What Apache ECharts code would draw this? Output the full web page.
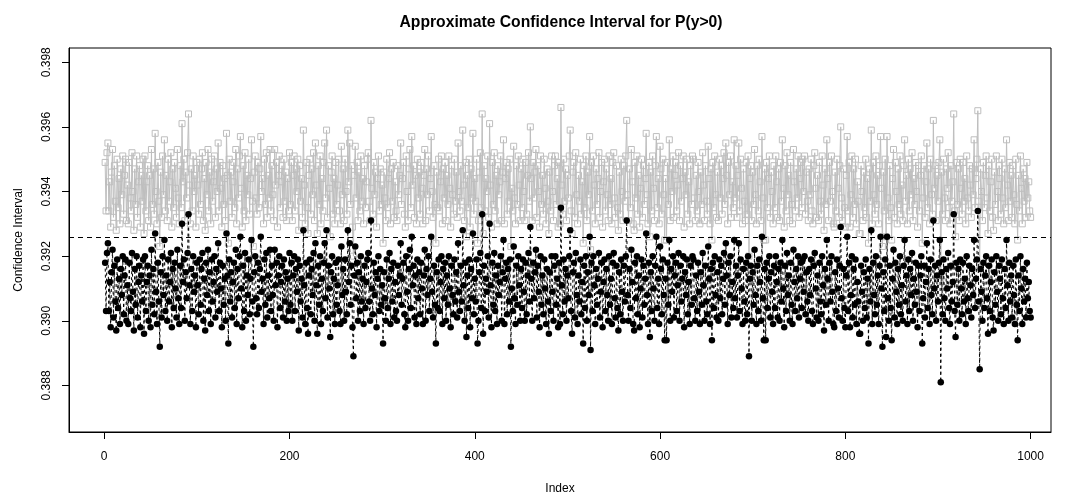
<!DOCTYPE html>
<html>
<head>
<meta charset="utf-8">
<script src="https://cdn.jsdelivr.net/npm/echarts@6/dist/echarts.min.js"></script>
<style>
  html, body { margin: 0; padding: 0; background: #fff; }
  #chart { width: 1067px; height: 496px; }
</style>
</head>
<body>
<div id="chart"></div>
<script>
// Lower confidence bound, one value per simulation index (1..1000)
const lowerBound = [
0.3918,0.3903,0.3921,0.3924,0.3903,0.3912,0.3898,0.3915,0.3922,0.3901,0.3917,0.3906,0.3897,0.3919,0.3904,0.3913,0.3899,0.3916,0.3908,0.3920,
0.3902,0.3914,0.3919,0.3900,0.3911,0.3899,0.3918,0.3907,0.3903,0.3921,0.3909,0.3897,0.3916,0.3905,0.3920,0.3901,0.3912,0.3917,0.3898,0.3914,
0.3906,0.3919,0.3896,0.3920,0.3903,0.3912,0.3917,0.3900,0.3914,0.3898,0.3922,0.3905,0.3916,0.3902,0.3927,0.3909,0.3899,0.3918,0.3906,0.3892,
0.3915,0.3901,0.3920,0.3908,0.3925,0.3903,0.3914,0.3900,0.3919,0.3906,0.3912,0.3921,0.3898,0.3916,0.3904,0.3918,0.3910,0.3901,0.3922,0.3907,
0.3899,0.3917,0.3904,0.3930,0.3912,0.3919,0.3900,0.3915,0.3907,0.3921,0.3933,0.3911,0.3899,0.3916,0.3903,0.3920,0.3909,0.3914,0.3898,0.3918,
0.3911,0.3902,0.3919,0.3905,0.3916,0.3921,0.3900,0.3913,0.3897,0.3918,0.3908,0.3922,0.3903,0.3915,0.3899,0.3919,0.3906,0.3912,0.3920,0.3901,
0.3916,0.3909,0.3924,0.3903,0.3918,0.3910,0.3898,0.3917,0.3905,0.3913,0.3900,0.3927,0.3914,0.3893,0.3919,0.3906,0.3915,0.3901,0.3912,0.3918,
0.3904,0.3922,0.3899,0.3916,0.3907,0.3920,0.3926,0.3910,0.3898,0.3917,0.3903,0.3921,0.3900,0.3914,0.3908,0.3919,0.3902,0.3913,0.3925,0.3906,
0.3892,0.3915,0.3920,0.3907,0.3902,0.3918,0.3904,0.3916,0.3926,0.3909,0.3913,0.3899,0.3919,0.3905,0.3921,0.3901,0.3914,0.3907,0.3922,0.3903,
0.3917,0.3908,0.3900,0.3922,0.3911,0.3918,0.3898,0.3914,0.3920,0.3904,0.3912,0.3917,0.3901,0.3919,0.3906,0.3915,0.3900,0.3913,0.3903,0.3921,
0.3905,0.3918,0.3900,0.3914,0.3920,0.3903,0.3916,0.3909,0.3919,0.3897,0.3917,0.3906,0.3913,0.3901,0.3928,0.3911,0.3899,0.3918,0.3904,0.3896,
0.3914,0.3919,0.3902,0.3916,0.3908,0.3921,0.3900,0.3924,0.3911,0.3896,0.3917,0.3905,0.3920,0.3899,0.3913,0.3903,0.3918,0.3924,0.3907,0.3928,
0.3901,0.3917,0.3910,0.3895,0.3915,0.3920,0.3902,0.3913,0.3899,0.3918,0.3905,0.3911,0.3919,0.3903,0.3899,0.3923,0.3908,0.3916,0.3900,0.3919,
0.3909,0.3902,0.3928,0.3912,0.3924,0.3905,0.3917,0.3898,0.3889,0.3914,0.3923,0.3907,0.3918,0.3900,0.3915,0.3903,0.3920,0.3906,0.3913,0.3899,
0.3917,0.3904,0.3912,0.3919,0.3921,0.3906,0.3900,0.3931,0.3910,0.3902,0.3918,0.3908,0.3915,0.3898,0.3913,0.3920,0.3903,0.3916,0.3905,0.3911,
0.3893,0.3915,0.3907,0.3900,0.3919,0.3904,0.3913,0.3921,0.3899,0.3916,0.3906,0.3918,0.3901,0.3912,0.3903,0.3900,0.3917,0.3908,0.3914,0.3924,
0.3905,0.3913,0.3918,0.3902,0.3898,0.3920,0.3909,0.3900,0.3916,0.3922,0.3904,0.3926,0.3911,0.3917,0.3901,0.3914,0.3899,0.3919,0.3907,0.3915,
0.3902,0.3918,0.3910,0.3899,0.3914,0.3922,0.3900,0.3916,0.3908,0.3920,0.3903,0.3913,0.3926,0.3909,0.3901,0.3917,0.3905,0.3893,0.3915,0.3904,
0.3919,0.3903,0.3912,0.3920,0.3899,0.3916,0.3907,0.3918,0.3900,0.3914,0.3905,0.3920,0.3910,0.3898,0.3917,0.3908,0.3902,0.3919,0.3906,0.3915,
0.3901,0.3924,0.3909,0.3903,0.3917,0.3906,0.3928,0.3911,0.3900,0.3918,0.3895,0.3914,0.3904,0.3919,0.3898,0.3916,0.3907,0.3927,0.3902,0.3913,
0.3906,0.3919,0.3893,0.3900,0.3915,0.3921,0.3904,0.3933,0.3896,0.3917,0.3903,0.3913,0.3909,0.3920,0.3901,0.3930,0.3911,0.3898,0.3918,0.3905,
0.3921,0.3903,0.3914,0.3899,0.3917,0.3908,0.3912,0.3920,0.3900,0.3915,0.3925,0.3899,0.3913,0.3918,0.3902,0.3916,0.3906,0.3919,0.3892,0.3910,
0.3903,0.3923,0.3907,0.3899,0.3917,0.3905,0.3920,0.3911,0.3900,0.3916,0.3904,0.3919,0.3909,0.3900,0.3918,0.3902,0.3914,0.3921,0.3906,0.3929,
0.3913,0.3900,0.3918,0.3907,0.3915,0.3922,0.3901,0.3917,0.3909,0.3898,0.3920,0.3905,0.3914,0.3902,0.3919,0.3910,0.3899,0.3916,0.3906,0.3896,
0.3915,0.3903,0.3920,0.3909,0.3900,0.3917,0.3920,0.3905,0.3913,0.3898,0.3918,0.3899,0.3935,0.3911,0.3902,0.3919,0.3906,0.3916,0.3900,0.3914,
0.3907,0.3920,0.3928,0.3903,0.3896,0.3915,0.3918,0.3901,0.3921,0.3908,0.3899,0.3914,0.3906,0.3919,0.3902,0.3912,0.3893,0.3917,0.3904,0.3920,
0.3900,0.3915,0.3908,0.3926,0.3891,0.3918,0.3903,0.3920,0.3911,0.3899,0.3916,0.3905,0.3913,0.3921,0.3901,0.3909,0.3918,0.3898,0.3912,0.3919,
0.3903,0.3916,0.3908,0.3900,0.3920,0.3905,0.3913,0.3899,0.3918,0.3921,0.3907,0.3901,0.3917,0.3904,0.3897,0.3915,0.3902,0.3919,0.3909,0.3900,
0.3917,0.3906,0.3920,0.3931,0.3908,0.3900,0.3916,0.3904,0.3922,0.3912,0.3899,0.3897,0.3918,0.3907,0.3920,0.3902,0.3914,0.3898,0.3910,0.3919,
0.3901,0.3917,0.3905,0.3913,0.3927,0.3908,0.3899,0.3918,0.3895,0.3915,0.3903,0.3920,0.3910,0.3900,0.3917,0.3926,0.3904,0.3913,0.3899,0.3923,
0.3916,0.3902,0.3919,0.3908,0.3894,0.3913,0.3894,0.3918,0.3905,0.3925,0.3900,0.3916,0.3909,0.3920,0.3901,0.3914,0.3918,0.3903,0.3911,0.3921,
0.3900,0.3917,0.3906,0.3913,0.3920,0.3898,0.3915,0.3908,0.3919,0.3902,0.3912,0.3899,0.3917,0.3905,0.3920,0.3919,0.3907,0.3900,0.3914,0.3903,
0.3918,0.3909,0.3899,0.3915,0.3905,0.3921,0.3911,0.3900,0.3917,0.3906,0.3902,0.3923,0.3913,0.3899,0.3916,0.3894,0.3918,0.3904,0.3920,0.3908,
0.3901,0.3915,0.3900,0.3919,0.3907,0.3917,0.3902,0.3913,0.3921,0.3905,0.3924,0.3914,0.3899,0.3918,0.3908,0.3920,0.3901,0.3912,0.3904,0.3925,
0.3907,0.3917,0.3901,0.3914,0.3924,0.3903,0.3919,0.3910,0.3899,0.3916,0.3906,0.3900,0.3918,0.3902,0.3920,0.3889,0.3913,0.3917,0.3900,0.3915,
0.3905,0.3922,0.3908,0.3899,0.3917,0.3903,0.3919,0.3912,0.3900,0.3926,0.3907,0.3894,0.3916,0.3894,0.3918,0.3904,0.3913,0.3920,0.3901,0.3915,
0.3909,0.3899,0.3917,0.3904,0.3920,0.3912,0.3901,0.3916,0.3900,0.3918,0.3906,0.3925,0.3910,0.3898,0.3917,0.3903,0.3921,0.3908,0.3914,0.3900,
0.3918,0.3905,0.3899,0.3922,0.3912,0.3903,0.3916,0.3907,0.3920,0.3901,0.3913,0.3918,0.3904,0.3919,0.3909,0.3920,0.3902,0.3915,0.3906,0.3900,
0.3916,0.3908,0.3919,0.3903,0.3899,0.3917,0.3921,0.3910,0.3901,0.3914,0.3900,0.3918,0.3906,0.3902,0.3920,0.3911,0.3897,0.3916,0.3905,0.3925,
0.3913,0.3900,0.3918,0.3906,0.3920,0.3909,0.3899,0.3898,0.3915,0.3903,0.3919,0.3910,0.3901,0.3917,0.3929,0.3907,0.3900,0.3916,0.3904,0.3898,
0.3914,0.3926,0.3903,0.3918,0.3898,0.3908,0.3920,0.3901,0.3916,0.3905,0.3919,0.3899,0.3912,0.3906,0.3896,0.3896,0.3917,0.3909,0.3900,0.3915,
0.3904,0.3919,0.3901,0.3913,0.3893,0.3916,0.3906,0.3928,0.3899,0.3918,0.3908,0.3902,0.3920,0.3905,0.3914,0.3899,0.3917,0.3926,0.3910,0.3892,
0.3915,0.3903,0.3919,0.3895,0.3926,0.3907,0.3900,0.3917,0.3904,0.3894,0.3913,0.3922,0.3901,0.3918,0.3909,0.3899,0.3916,0.3905,0.3920,0.3902,
0.3911,0.3900,0.3917,0.3925,0.3906,0.3914,0.3899,0.3919,0.3903,0.3916,0.3908,0.3921,0.3900,0.3913,0.3905,0.3918,0.3909,0.3898,0.3917,0.3903,
0.3914,0.3920,0.3893,0.3907,0.3917,0.3901,0.3912,0.3924,0.3904,0.3916,0.3899,0.3919,0.3908,0.3902,0.3931,0.3910,0.3917,0.3900,0.3914,0.3906,
0.3918,0.3925,0.3881,0.3915,0.3902,0.3919,0.3907,0.3900,0.3916,0.3910,0.3921,0.3904,0.3899,0.3917,0.3906,0.3912,0.3933,0.3903,0.3895,0.3918,
0.3905,0.3916,0.3900,0.3919,0.3910,0.3902,0.3918,0.3906,0.3913,0.3899,0.3920,0.3907,0.3903,0.3917,0.3911,0.3901,0.3916,0.3908,0.3925,0.3904,
0.3913,0.3919,0.3934,0.3906,0.3885,0.3916,0.3909,0.3900,0.3918,0.3904,0.3914,0.3920,0.3907,0.3896,0.3917,0.3903,0.3912,0.3919,0.3901,0.3897,
0.3915,0.3905,0.3920,0.3909,0.3900,0.3917,0.3913,0.3902,0.3919,0.3907,0.3899,0.3916,0.3904,0.3925,0.3911,0.3900,0.3918,0.3906,0.3914,0.3901,
0.3917,0.3908,0.3899,0.3919,0.3905,0.3894,0.3914,0.3903,0.3920,0.3910,0.3899,0.3916,0.3906,0.3913,0.3901,0.3918,0.3907,0.3912,0.3903,0.3901
];

// Upper confidence bound, same indices
const upperBound = [
0.3949,0.3934,0.3952,0.3955,0.3934,0.3943,0.3929,0.3946,0.3953,0.3932,0.3948,0.3937,0.3928,0.3950,0.3935,0.3944,0.3930,0.3947,0.3939,0.3951,
0.3933,0.3945,0.3950,0.3931,0.3942,0.3930,0.3949,0.3938,0.3934,0.3952,0.3940,0.3928,0.3947,0.3936,0.3951,0.3932,0.3943,0.3948,0.3929,0.3945,
0.3937,0.3950,0.3927,0.3951,0.3934,0.3943,0.3948,0.3931,0.3945,0.3929,0.3953,0.3936,0.3947,0.3933,0.3958,0.3940,0.3930,0.3949,0.3937,0.3923,
0.3946,0.3932,0.3951,0.3939,0.3956,0.3934,0.3945,0.3931,0.3950,0.3937,0.3943,0.3952,0.3929,0.3947,0.3935,0.3949,0.3941,0.3932,0.3953,0.3938,
0.3930,0.3948,0.3935,0.3961,0.3943,0.3950,0.3931,0.3946,0.3938,0.3952,0.3964,0.3942,0.3930,0.3947,0.3934,0.3951,0.3940,0.3945,0.3929,0.3949,
0.3942,0.3933,0.3950,0.3936,0.3947,0.3952,0.3931,0.3944,0.3928,0.3949,0.3939,0.3953,0.3934,0.3946,0.3930,0.3950,0.3937,0.3943,0.3951,0.3932,
0.3947,0.3940,0.3955,0.3934,0.3949,0.3941,0.3929,0.3948,0.3936,0.3944,0.3931,0.3958,0.3945,0.3924,0.3950,0.3937,0.3946,0.3932,0.3943,0.3949,
0.3935,0.3953,0.3930,0.3947,0.3938,0.3951,0.3957,0.3941,0.3929,0.3948,0.3934,0.3952,0.3931,0.3945,0.3939,0.3950,0.3933,0.3944,0.3956,0.3937,
0.3923,0.3946,0.3951,0.3938,0.3933,0.3949,0.3935,0.3947,0.3957,0.3940,0.3944,0.3930,0.3950,0.3936,0.3952,0.3932,0.3945,0.3938,0.3953,0.3934,
0.3948,0.3939,0.3931,0.3953,0.3942,0.3949,0.3929,0.3945,0.3951,0.3935,0.3943,0.3948,0.3932,0.3950,0.3937,0.3946,0.3931,0.3944,0.3934,0.3952,
0.3936,0.3949,0.3931,0.3945,0.3951,0.3934,0.3947,0.3940,0.3950,0.3928,0.3948,0.3937,0.3944,0.3932,0.3959,0.3942,0.3930,0.3949,0.3935,0.3927,
0.3945,0.3950,0.3933,0.3947,0.3939,0.3952,0.3931,0.3955,0.3942,0.3927,0.3948,0.3936,0.3951,0.3930,0.3944,0.3934,0.3949,0.3955,0.3938,0.3959,
0.3932,0.3948,0.3941,0.3926,0.3946,0.3951,0.3933,0.3944,0.3930,0.3949,0.3936,0.3942,0.3950,0.3934,0.3930,0.3954,0.3939,0.3947,0.3931,0.3950,
0.3940,0.3933,0.3959,0.3943,0.3955,0.3936,0.3948,0.3929,0.3920,0.3945,0.3954,0.3938,0.3949,0.3931,0.3946,0.3934,0.3951,0.3937,0.3944,0.3930,
0.3948,0.3935,0.3943,0.3950,0.3952,0.3937,0.3931,0.3962,0.3941,0.3933,0.3949,0.3939,0.3946,0.3929,0.3944,0.3951,0.3934,0.3947,0.3936,0.3942,
0.3924,0.3946,0.3938,0.3931,0.3950,0.3935,0.3944,0.3952,0.3930,0.3947,0.3937,0.3949,0.3932,0.3943,0.3934,0.3931,0.3948,0.3939,0.3945,0.3955,
0.3936,0.3944,0.3949,0.3933,0.3929,0.3951,0.3940,0.3931,0.3947,0.3953,0.3935,0.3957,0.3942,0.3948,0.3932,0.3945,0.3930,0.3950,0.3938,0.3946,
0.3933,0.3949,0.3941,0.3930,0.3945,0.3953,0.3931,0.3947,0.3939,0.3951,0.3934,0.3944,0.3957,0.3940,0.3932,0.3948,0.3936,0.3924,0.3946,0.3935,
0.3950,0.3934,0.3943,0.3951,0.3930,0.3947,0.3938,0.3949,0.3931,0.3945,0.3936,0.3951,0.3941,0.3929,0.3948,0.3939,0.3933,0.3950,0.3937,0.3946,
0.3932,0.3955,0.3940,0.3934,0.3948,0.3937,0.3959,0.3942,0.3931,0.3949,0.3926,0.3945,0.3935,0.3950,0.3929,0.3947,0.3938,0.3958,0.3933,0.3944,
0.3937,0.3950,0.3924,0.3931,0.3946,0.3952,0.3935,0.3964,0.3927,0.3948,0.3934,0.3944,0.3940,0.3951,0.3932,0.3961,0.3942,0.3929,0.3949,0.3936,
0.3952,0.3934,0.3945,0.3930,0.3948,0.3939,0.3943,0.3951,0.3931,0.3946,0.3956,0.3930,0.3944,0.3949,0.3933,0.3947,0.3937,0.3950,0.3923,0.3941,
0.3934,0.3954,0.3938,0.3930,0.3948,0.3936,0.3951,0.3942,0.3931,0.3947,0.3935,0.3950,0.3940,0.3931,0.3949,0.3933,0.3945,0.3952,0.3937,0.3960,
0.3944,0.3931,0.3949,0.3938,0.3946,0.3953,0.3932,0.3948,0.3940,0.3929,0.3951,0.3936,0.3945,0.3933,0.3950,0.3941,0.3930,0.3947,0.3937,0.3927,
0.3946,0.3934,0.3951,0.3940,0.3931,0.3948,0.3951,0.3936,0.3944,0.3929,0.3949,0.3930,0.3966,0.3942,0.3933,0.3950,0.3937,0.3947,0.3931,0.3945,
0.3938,0.3951,0.3959,0.3934,0.3927,0.3946,0.3949,0.3932,0.3952,0.3939,0.3930,0.3945,0.3937,0.3950,0.3933,0.3943,0.3924,0.3948,0.3935,0.3951,
0.3931,0.3946,0.3939,0.3957,0.3922,0.3949,0.3934,0.3951,0.3942,0.3930,0.3947,0.3936,0.3944,0.3952,0.3932,0.3940,0.3949,0.3929,0.3943,0.3950,
0.3934,0.3947,0.3939,0.3931,0.3951,0.3936,0.3944,0.3930,0.3949,0.3952,0.3938,0.3932,0.3948,0.3935,0.3928,0.3946,0.3933,0.3950,0.3940,0.3931,
0.3948,0.3937,0.3951,0.3962,0.3939,0.3931,0.3947,0.3935,0.3953,0.3943,0.3930,0.3928,0.3949,0.3938,0.3951,0.3933,0.3945,0.3929,0.3941,0.3950,
0.3932,0.3948,0.3936,0.3944,0.3958,0.3939,0.3930,0.3949,0.3926,0.3946,0.3934,0.3951,0.3941,0.3931,0.3948,0.3957,0.3935,0.3944,0.3930,0.3954,
0.3947,0.3933,0.3950,0.3939,0.3925,0.3944,0.3925,0.3949,0.3936,0.3956,0.3931,0.3947,0.3940,0.3951,0.3932,0.3945,0.3949,0.3934,0.3942,0.3952,
0.3931,0.3948,0.3937,0.3944,0.3951,0.3929,0.3946,0.3939,0.3950,0.3933,0.3943,0.3930,0.3948,0.3936,0.3951,0.3950,0.3938,0.3931,0.3945,0.3934,
0.3949,0.3940,0.3930,0.3946,0.3936,0.3952,0.3942,0.3931,0.3948,0.3937,0.3933,0.3954,0.3944,0.3930,0.3947,0.3925,0.3949,0.3935,0.3951,0.3939,
0.3932,0.3946,0.3931,0.3950,0.3938,0.3948,0.3933,0.3944,0.3952,0.3936,0.3955,0.3945,0.3930,0.3949,0.3939,0.3951,0.3932,0.3943,0.3935,0.3956,
0.3938,0.3948,0.3932,0.3945,0.3955,0.3934,0.3950,0.3941,0.3930,0.3947,0.3937,0.3931,0.3949,0.3933,0.3951,0.3920,0.3944,0.3948,0.3931,0.3946,
0.3936,0.3953,0.3939,0.3930,0.3948,0.3934,0.3950,0.3943,0.3931,0.3957,0.3938,0.3925,0.3947,0.3925,0.3949,0.3935,0.3944,0.3951,0.3932,0.3946,
0.3940,0.3930,0.3948,0.3935,0.3951,0.3943,0.3932,0.3947,0.3931,0.3949,0.3937,0.3956,0.3941,0.3929,0.3948,0.3934,0.3952,0.3939,0.3945,0.3931,
0.3949,0.3936,0.3930,0.3953,0.3943,0.3934,0.3947,0.3938,0.3951,0.3932,0.3944,0.3949,0.3935,0.3950,0.3940,0.3951,0.3933,0.3946,0.3937,0.3931,
0.3947,0.3939,0.3950,0.3934,0.3930,0.3948,0.3952,0.3941,0.3932,0.3945,0.3931,0.3949,0.3937,0.3933,0.3951,0.3942,0.3928,0.3947,0.3936,0.3956,
0.3944,0.3931,0.3949,0.3937,0.3951,0.3940,0.3930,0.3929,0.3946,0.3934,0.3950,0.3941,0.3932,0.3948,0.3960,0.3938,0.3931,0.3947,0.3935,0.3929,
0.3945,0.3957,0.3934,0.3949,0.3929,0.3939,0.3951,0.3932,0.3947,0.3936,0.3950,0.3930,0.3943,0.3937,0.3927,0.3927,0.3948,0.3940,0.3931,0.3946,
0.3935,0.3950,0.3932,0.3944,0.3924,0.3947,0.3937,0.3959,0.3930,0.3949,0.3939,0.3933,0.3951,0.3936,0.3945,0.3930,0.3948,0.3957,0.3941,0.3923,
0.3946,0.3934,0.3950,0.3926,0.3957,0.3938,0.3931,0.3948,0.3935,0.3925,0.3944,0.3953,0.3932,0.3949,0.3940,0.3930,0.3947,0.3936,0.3951,0.3933,
0.3942,0.3931,0.3948,0.3956,0.3937,0.3945,0.3930,0.3950,0.3934,0.3947,0.3939,0.3952,0.3931,0.3944,0.3936,0.3949,0.3940,0.3929,0.3948,0.3934,
0.3945,0.3951,0.3924,0.3938,0.3948,0.3932,0.3943,0.3955,0.3935,0.3947,0.3930,0.3950,0.3939,0.3933,0.3962,0.3941,0.3948,0.3931,0.3945,0.3937,
0.3949,0.3956,0.3912,0.3946,0.3933,0.3950,0.3938,0.3931,0.3947,0.3941,0.3952,0.3935,0.3930,0.3948,0.3937,0.3943,0.3964,0.3934,0.3926,0.3949,
0.3936,0.3947,0.3931,0.3950,0.3941,0.3933,0.3949,0.3937,0.3944,0.3930,0.3951,0.3938,0.3934,0.3948,0.3942,0.3932,0.3947,0.3939,0.3956,0.3935,
0.3944,0.3950,0.3965,0.3937,0.3916,0.3947,0.3940,0.3931,0.3949,0.3935,0.3945,0.3951,0.3938,0.3927,0.3948,0.3934,0.3943,0.3950,0.3932,0.3928,
0.3946,0.3936,0.3951,0.3940,0.3931,0.3948,0.3944,0.3933,0.3950,0.3938,0.3930,0.3947,0.3935,0.3956,0.3942,0.3931,0.3949,0.3937,0.3945,0.3932,
0.3948,0.3939,0.3930,0.3950,0.3936,0.3925,0.3945,0.3934,0.3951,0.3941,0.3930,0.3947,0.3937,0.3944,0.3932,0.3949,0.3938,0.3943,0.3934,0.3932
];

// Reference value drawn as the dashed horizontal line
const trueValue = 0.3926;

// Axis ticks and visible ranges
const xTicks = [0, 200, 400, 600, 800, 1000];
const yTicks = [0.388, 0.390, 0.392, 0.394, 0.396, 0.398];
const xRange = [-38, 1022];
const yRange = [0.38656, 0.39844];

const toPairs = arr => arr.map((v, i) => [i + 1, v]);

const FONT = '"Liberation Sans", Arial, sans-serif';

const chart = echarts.init(document.getElementById('chart'), null, { renderer: 'canvas' });

chart.setOption({
  animation: false,
  backgroundColor: '#ffffff',
  title: {
    text: 'Approximate Confidence Interval for P(y>0)',
    left: 556,
    top: 10,
    textAlign: 'center',
    textStyle: { fontFamily: FONT, fontSize: 15.7, fontWeight: 'bold', color: '#000' }
  },
  grid: {
    left: 69, right: 16, top: 48, bottom: 64,
    containLabel: false,
    outerBoundsMode: 'none',
    show: true, borderColor: '#000', borderWidth: 1, backgroundColor: 'transparent'
  },
  xAxis: {
    type: 'value',
    min: xRange[0], max: xRange[1],
    name: 'Index',
    nameLocation: 'middle',
    nameGap: 51,
    nameTextStyle: { fontFamily: FONT, fontSize: 12, color: '#000' },
    axisLine: { show: true, onZero: false, lineStyle: { color: '#000', width: 1 } },
    splitLine: { show: false },
    axisTick: { show: true, inside: false, length: 7, customValues: xTicks, lineStyle: { color: '#000' } },
    axisLabel: {
      customValues: xTicks, margin: 19,
      fontFamily: FONT, fontSize: 12, color: '#000',
      formatter: v => String(v)
    }
  },
  yAxis: {
    type: 'value',
    min: yRange[0], max: yRange[1],
    name: 'Confidence Interval',
    nameLocation: 'middle',
    nameGap: 44,
    nameRotate: 90,
    nameTextStyle: { fontFamily: FONT, fontSize: 12, color: '#000' },
    axisLine: { show: true, onZero: false, lineStyle: { color: '#000', width: 1 } },
    splitLine: { show: false },
    axisTick: { show: true, inside: false, length: 7, customValues: yTicks, lineStyle: { color: '#000' } },
    axisLabel: {
      customValues: yTicks,
      rotate: 90,
      margin: 16,
      fontFamily: FONT, fontSize: 12, color: '#000',
      formatter: v => v.toFixed(3)
    }
  },
  series: [
    {
      name: 'upper',
      type: 'line',
      data: toPairs(upperBound),
      showSymbol: true,
      showAllSymbol: true,
      symbol: 'rect',
      symbolSize: 6,
      itemStyle: { color: 'rgba(0,0,0,0)', borderColor: '#bebebe', borderWidth: 1 },
      lineStyle: { color: '#bebebe', width: 1 },
      emphasis: { disabled: true },
      silent: true,
      z: 2
    },
    {
      name: 'lower',
      type: 'line',
      data: toPairs(lowerBound),
      showSymbol: true,
      showAllSymbol: true,
      symbol: 'circle',
      symbolSize: 6.5,
      itemStyle: { color: '#000', borderWidth: 0 },
      lineStyle: { color: '#000', width: 1, type: [3, 3] },
      emphasis: { disabled: true },
      silent: true,
      z: 3,
      markLine: {
        silent: true,
        precision: 4,
        symbol: ['none', 'none'],
        label: { show: false },
        lineStyle: { color: '#000', width: 1, type: [5, 4] },
        data: [{ yAxis: trueValue }],
        z: 5
      }
    }
  ]
});
</script>
</body>
</html>
